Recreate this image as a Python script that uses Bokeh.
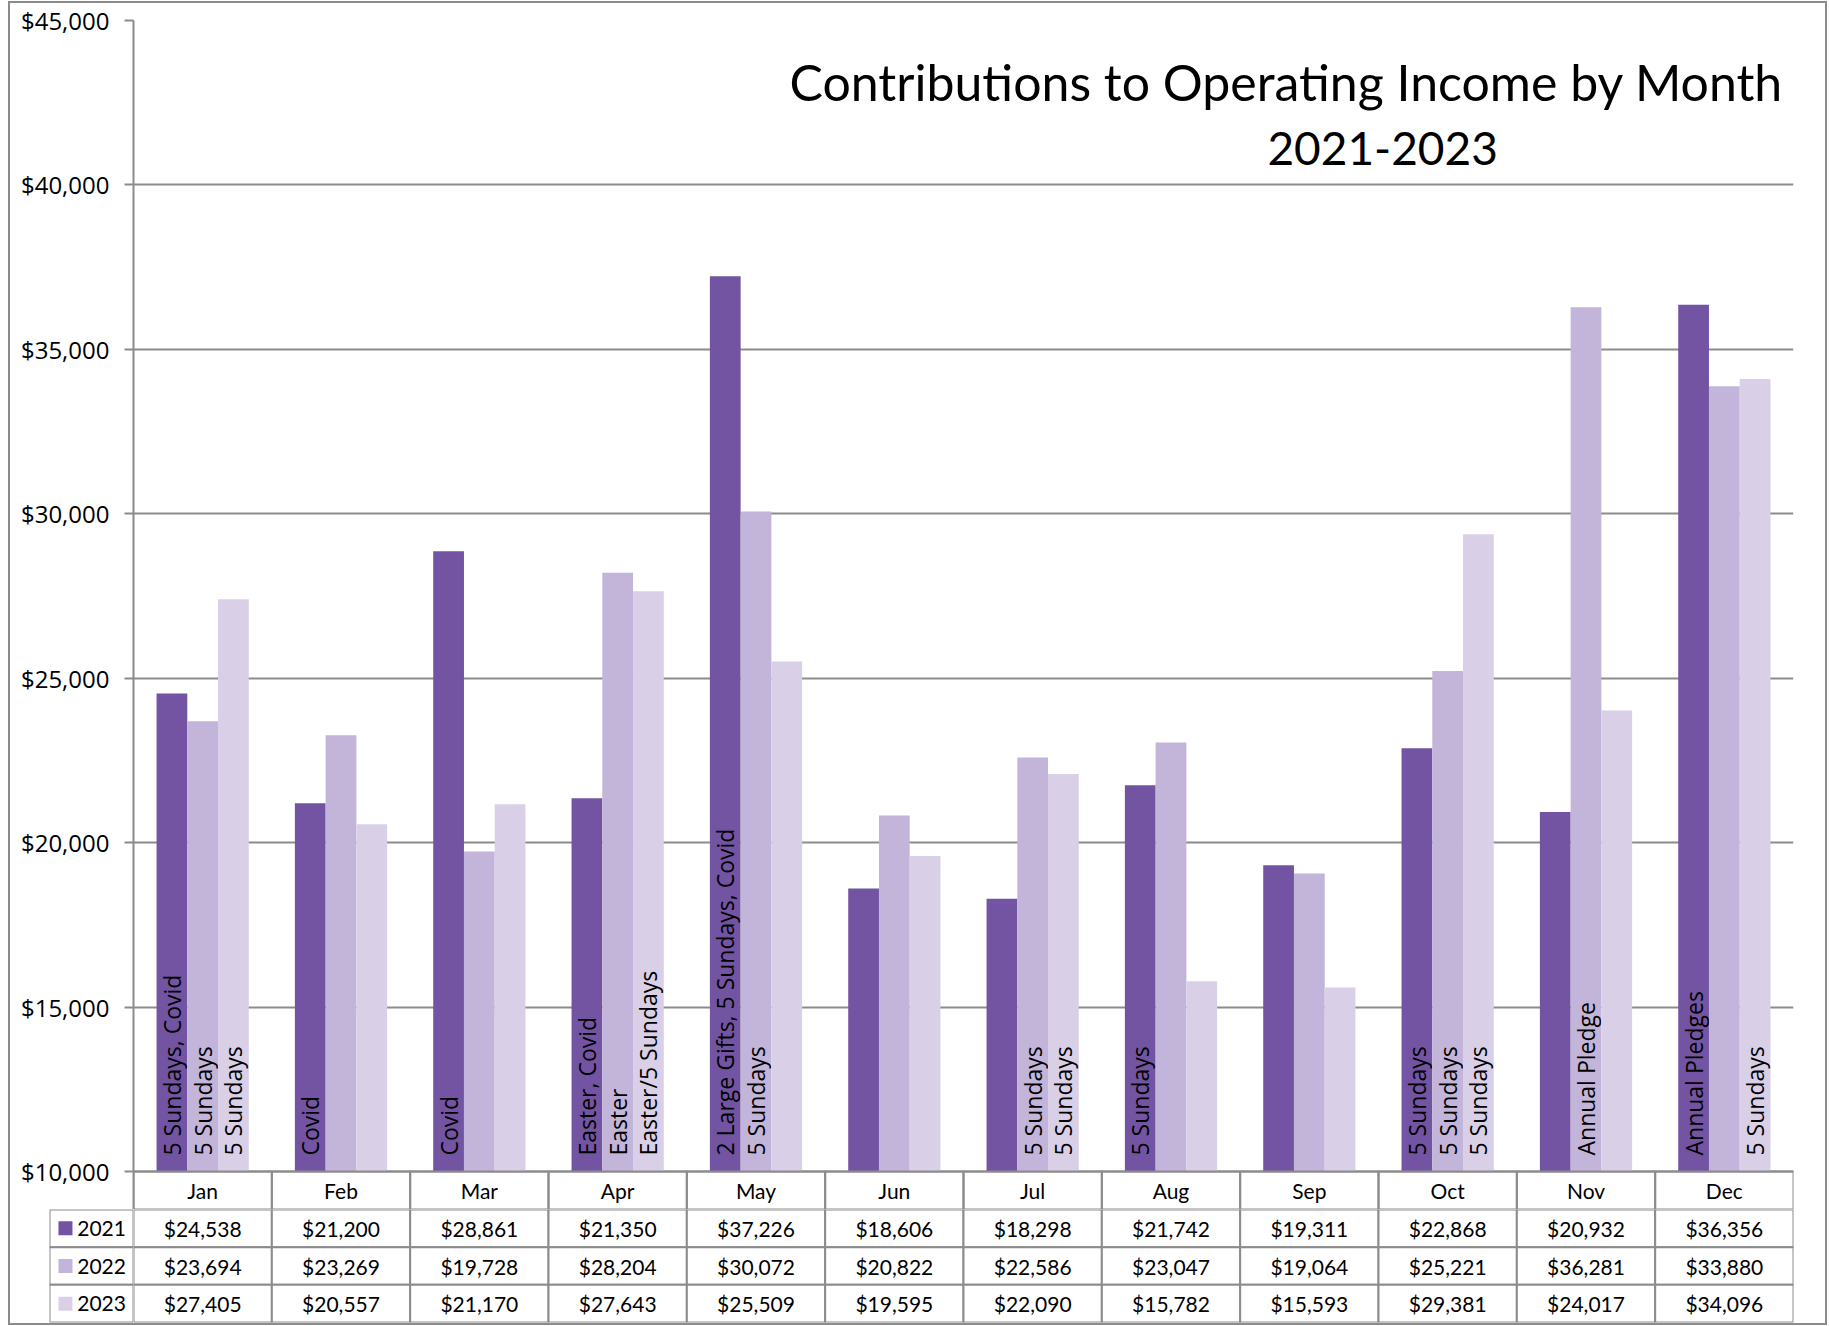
from math import pi

from bokeh.plotting import figure
from bokeh.models import (ColumnDataSource, FactorRange, Range1d, FixedTicker,
                          NumeralTickFormatter, Label)
from bokeh.transform import dodge
from bokeh.layouts import column, row
from bokeh.core.properties import value
from bokeh.embed import file_html
from bokeh.resources import INLINE

# ---------------- data ----------------
months = ["Jan", "Feb", "Mar", "Apr", "May", "Jun",
          "Jul", "Aug", "Sep", "Oct", "Nov", "Dec"]
years = ["2021", "2022", "2023"]

values_2021 = [24538, 21200, 28861, 21350, 37226, 18606,
               18298, 21742, 19311, 22868, 20932, 36356]
values_2022 = [23694, 23269, 19728, 28204, 30072, 20822,
               22586, 23047, 19064, 25221, 36281, 33880]
values_2023 = [27405, 20557, 21170, 27643, 25509, 19595,
               22090, 15782, 15593, 29381, 24017, 34096]

notes_2021 = ["5 Sundays, Covid", "Covid", "Covid", "Easter, Covid",
              "2 Large Gifts, 5 Sundays, Covid", "", "", "5 Sundays", "",
              "5 Sundays", "", "Annual Pledges"]
notes_2022 = ["5 Sundays", "", "", "Easter", "5 Sundays", "", "5 Sundays",
              "", "", "5 Sundays", "Annual Pledge", ""]
notes_2023 = ["5 Sundays", "", "", "Easter/5 Sundays", "", "", "5 Sundays",
              "", "", "5 Sundays", "", "5 Sundays"]

y_ticks = [10000, 15000, 20000, 25000, 30000, 35000, 40000, 45000]

title_line1 = "Contributions to Operating Income by Month"
title_line2 = "2021-2023"

# ---------------- styling ----------------
colors = ["#7254A2", "#C3B4D9", "#D9D0E8"]
GRAY = "#8C8C8C"
BAR_W = 2 / 9
offsets = [-BAR_W, 0.0, BAR_W]
TABLE_FONT = "Lato"
NOTE_FONT = "Open Sans"

series_values = [values_2021, values_2022, values_2023]
series_notes = [notes_2021, notes_2022, notes_2023]

baseline = y_ticks[0]
y_top = y_ticks[-1]
y_start = 8845  # leaves room for the month header row under the baseline

x_range = FactorRange(factors=months, range_padding=0, factor_padding=0)

# ---------------- chart ----------------
p = figure(x_range=x_range, y_range=Range1d(y_start, y_top),
           width=1815, height=1206,
           min_border_left=123, min_border_right=32,
           min_border_top=17, min_border_bottom=0,
           x_axis_location=None,
           output_backend="svg", toolbar_location=None)
p.outline_line_color = None
p.background_fill_color = "white"
p.border_fill_color = "white"

p.yaxis.ticker = FixedTicker(ticks=y_ticks)
p.yaxis.formatter = NumeralTickFormatter(format="$0,0")
p.yaxis.axis_line_color = GRAY
p.yaxis.axis_line_width = 2
p.yaxis.major_tick_line_color = GRAY
p.yaxis.major_tick_line_width = 2
p.yaxis.major_tick_out = 9
p.yaxis.major_tick_in = 0
p.yaxis.minor_tick_line_color = None
p.yaxis.major_label_text_font = NOTE_FONT
p.yaxis.major_label_text_font_size = "24px"
p.yaxis.major_label_text_color = "black"
p.yaxis.major_label_standoff = 15

p.xgrid.visible = False
p.ygrid.ticker = FixedTicker(ticks=y_ticks)
p.ygrid.grid_line_color = GRAY
p.ygrid.grid_line_width = 2

for vals, notes, off, col in zip(series_values, series_notes, offsets, colors):
    src = ColumnDataSource(dict(month=months, value=vals, note=notes))
    xs = dodge("month", off, range=x_range)
    p.vbar(x=xs, top="value", bottom=baseline, width=BAR_W, source=src,
           fill_color=col, line_color=None)
    p.text(x=xs, y=baseline, text="note", source=src, angle=pi / 2,
           text_align="left", text_baseline="middle", y_offset=-16,
           text_font=value(NOTE_FONT), text_font_size="23px",
           text_color="black")

# month header row (below the baseline, inside the chart frame)
hdr = ColumnDataSource(dict(month=months))
p.rect(x="month", y=(y_start + baseline) / 2, width=1, height=baseline - y_start,
       source=hdr, fill_color=None, line_color=GRAY, line_width=2)
p.text(x="month", y=(y_start + baseline) / 2, text="month", source=hdr,
       text_align="center", text_baseline="middle",
       text_font=value(TABLE_FONT), text_font_size="21px", text_color="black")

# title
p.add_layout(Label(x=8.335, y=43120, text=title_line1, text_align="center",
                   text_baseline="middle", text_font=TABLE_FONT,
                   text_font_size="50px", text_color="black"))
p.add_layout(Label(x=9.03, y=41110, text=title_line2, text_align="center",
                   text_baseline="middle", text_font=TABLE_FONT,
                   text_font_size="46px", text_color="black"))

# ---------------- data table ----------------
row_range = FactorRange(factors=years[::-1], range_padding=0, factor_padding=0)

tab_month, tab_year, tab_label = [], [], []
for yr, vals in zip(years, series_values):
    for m, v in zip(months, vals):
        tab_month.append(m)
        tab_year.append(yr)
        tab_label.append("${:,}".format(v))
tsrc = ColumnDataSource(dict(month=tab_month, year=tab_year, label=tab_label))

t = figure(x_range=x_range, y_range=row_range, width=1692, height=114,
           min_border_left=0, min_border_right=32,
           min_border_top=0, min_border_bottom=1,
           x_axis_location=None, y_axis_location=None,
           output_backend="svg", toolbar_location=None)
t.grid.visible = False
t.outline_line_color = None
t.rect(x="month", y="year", width=1, height=1, source=tsrc,
       fill_color="white", line_color=GRAY, line_width=2)
t.text(x="month", y="year", text="label", source=tsrc,
       text_align="center", text_baseline="middle",
       text_font=value(TABLE_FONT), text_font_size="21px", text_color="black")

# legend column
lg_range = FactorRange(factors=["series"], range_padding=0, factor_padding=0)
lsrc = ColumnDataSource(dict(col=["series"] * 3, year=years, color=colors))
lg = figure(x_range=lg_range, y_range=row_range, width=123, height=114,
            min_border_left=39, min_border_right=0,
            min_border_top=0, min_border_bottom=1,
            x_axis_location=None, y_axis_location=None,
            output_backend="svg", toolbar_location=None)
lg.grid.visible = False
lg.outline_line_color = None
lg.rect(x="col", y="year", width=1, height=1, source=lsrc,
        fill_color="white", line_color=GRAY, line_width=2)
lg.scatter(x=dodge("col", -0.31, range=lg_range), y="year", source=lsrc,
           marker="square", size=14, fill_color="color", line_color=None)
lg.text(x=dodge("col", -0.17, range=lg_range), y="year", text="year",
        source=lsrc, text_align="left", text_baseline="middle",
        text_font=value(TABLE_FONT), text_font_size="21px", text_color="black")

layout = column(p, row(lg, t),
                styles={"border": "2px solid #8C8C8C", "margin": "1px 0 0 8px"})

open("out.html", "w").write(file_html(layout, INLINE))
